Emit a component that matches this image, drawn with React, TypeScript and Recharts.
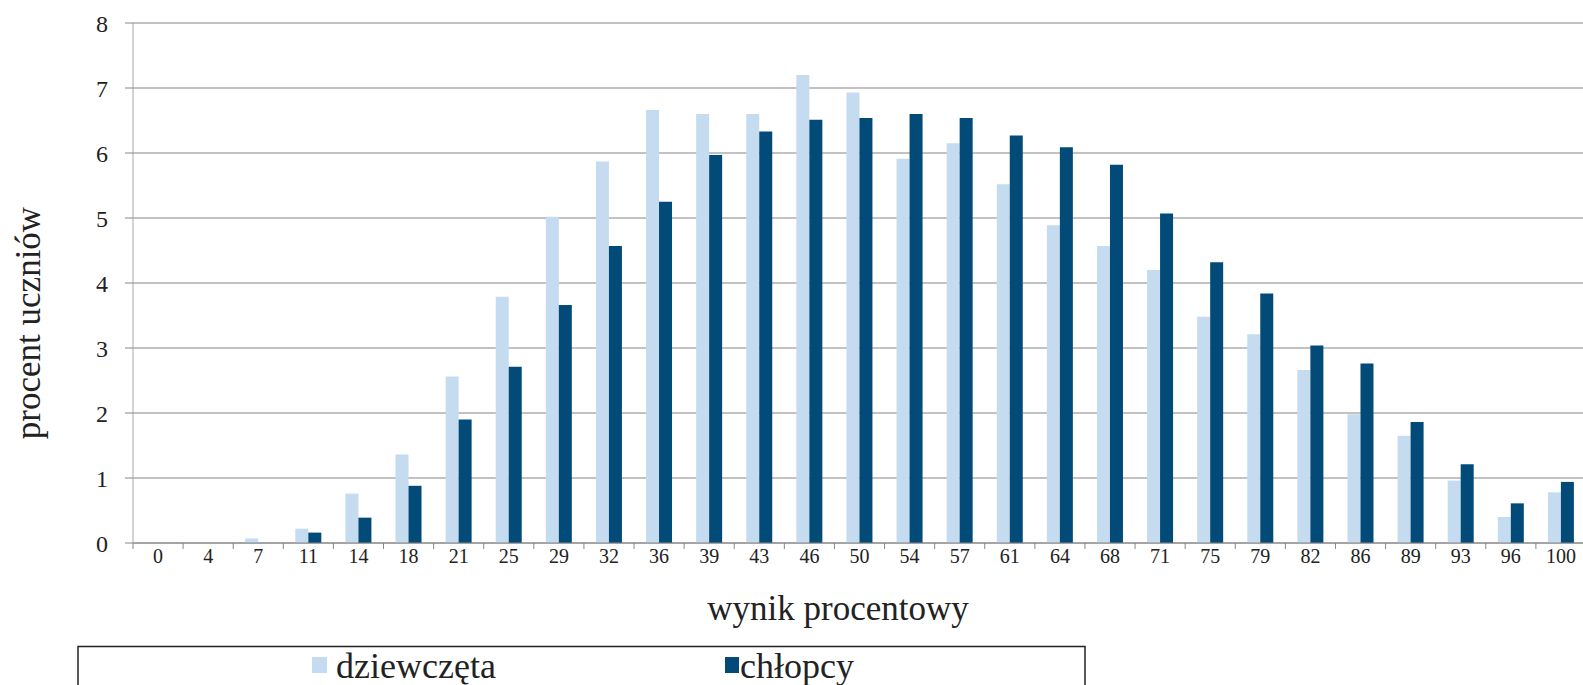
import { BarChart, Bar, XAxis, YAxis, CartesianGrid, Legend } from "recharts";

const categories = ["0", "4", "7", "11", "14", "18", "21", "25", "29", "32", "36", "39", "43", "46", "50", "54", "57", "61", "64", "68", "71", "75", "79", "82", "86", "89", "93", "96", "100"];
const girls = [0, 0, 0.07, 0.22, 0.76, 1.36, 2.56, 3.79, 5.02, 5.87, 6.66, 6.6, 6.6, 7.2, 6.93, 5.91, 6.15, 5.52, 4.89, 4.57, 4.2, 3.48, 3.21, 2.66, 1.98, 1.65, 0.96, 0.4, 0.78];
const boys = [0, 0, 0, 0.16, 0.39, 0.88, 1.9, 2.71, 3.66, 4.57, 5.25, 5.97, 6.33, 6.51, 6.54, 6.6, 6.54, 6.27, 6.09, 5.82, 5.07, 4.32, 3.84, 3.04, 2.76, 1.86, 1.21, 0.61, 0.94];
const yTicks = [0, 1, 2, 3, 4, 5, 6, 7, 8];

const LIGHT = "#c5dbef";
const DARK = "#024a78";
const FONT = '"Liberation Serif", "Times New Roman", serif';

const W = 1578;
const H = 677;
const Y_AXIS_W = 125;
const BAND = (W - Y_AXIS_W) / categories.length;

const data = categories.map((c, i) => ({ name: c, girls: girls[i], boys: boys[i] }));

function XTick({ x, y, payload }: any) {
  return (
    <g>
      <line x1={x - BAND / 2} x2={x - BAND / 2} y1={y - 6} y2={y} stroke="#868686" />
      <text x={x} y={y} dy="0.71em" textAnchor="middle" fontSize={20} fill="#222" fontFamily={FONT}>
        {payload.value}
      </text>
    </g>
  );
}

function LegendBox() {
  return (
    <svg width={1012} height={60} style={{ display: "block" }}>
      <rect x={1} y={1.5} width={1007} height={100} fill="#fff" stroke="#222" strokeWidth={1.5} />
      <rect x={235} y={12} width={15} height={16} fill={LIGHT} />
      <text x={259} y={33} fontSize={36} fontFamily={FONT} fill="#222">dziewczęta</text>
      <rect x={648} y={12} width={14} height={16} fill={DARK} />
      <text x={663} y={33} fontSize={36} fontFamily={FONT} fill="#222">chłopcy</text>
    </svg>
  );
}

export default function App() {
  return (
    <div style={{ position: "absolute", left: 8, top: 8, width: 1575, height: 677, overflow: "hidden", background: "#fff" }}>
      <BarChart width={W} height={H} data={data} margin={{ top: 15, right: 0, bottom: 42, left: 0 }} barSize={13} barGap={0}>
        <CartesianGrid vertical={false} stroke="#868686" strokeWidth={1.2} />
        <XAxis
          dataKey="name"
          interval={0}
          height={100}
          tickLine={false}
          tickSize={6}
          tickMargin={0}
          axisLine={{ stroke: "#868686" }}
          tick={<XTick />}
          label={{
            content: () => (
              <text x={830} y={612} textAnchor="middle" fontSize={35} fontFamily={FONT} fill="#222">
                wynik procentowy
              </text>
            ),
          }}
        />
        <YAxis
          width={Y_AXIS_W}
          domain={[0, 8]}
          ticks={yTicks}
          interval={0}
          tickSize={8}
          tickMargin={17}
          axisLine={{ stroke: "#a8a8a8" }}
          tickLine={{ stroke: "#868686" }}
          tick={{ fontSize: 24, fill: "#222", fontFamily: FONT }}
          label={{
            content: () => (
              <text x={32} y={315} transform="rotate(-90 32 315)" textAnchor="middle" fontSize={35} fontFamily={FONT} fill="#222">
                procent uczniów
              </text>
            ),
          }}
        />
        <Legend
          layout="horizontal"
          verticalAlign="middle"
          content={() => <LegendBox />}
          wrapperStyle={{ left: 69, top: 637, width: 1012, height: 60 }}
        />
        <Bar dataKey="girls" name="dziewczęta" fill={LIGHT} isAnimationActive={false} />
        <Bar dataKey="boys" name="chłopcy" fill={DARK} isAnimationActive={false} />
      </BarChart>
    </div>
  );
}
